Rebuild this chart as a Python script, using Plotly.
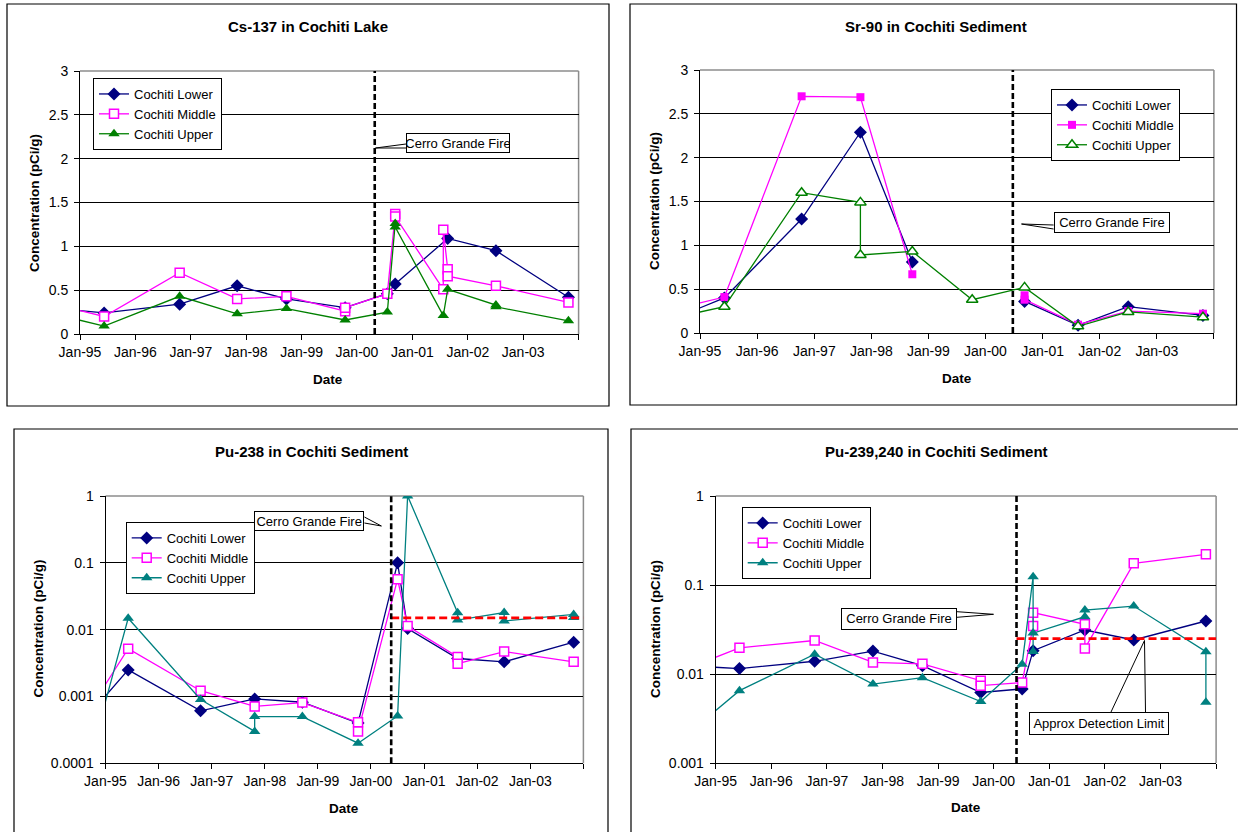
import plotly.graph_objects as go

W, H = 1238, 832
FONT = "Liberation Sans, Arial, sans-serif"
NAVY, MAG, GREEN, TEAL = "#000080", "#FF00FF", "#008000", "#008080"

# ---------------- data ----------------
# Panel 1: Cs-137 in Cochiti Lake (pCi/g)
cs_lower_dates = ["1994-10-15", "1995-06-09", "1996-10-19", "1997-11-02", "1998-09-23", "1999-10-15",
                  "2000-07-19", "2000-09-09", "2001-08-21", "2002-07-05", "2003-10-26"]
cs_lower_vals = [0.28, 0.24, 0.34, 0.55, 0.40, 0.30, 0.46, 0.57, 1.09, 0.95, 0.42]
cs_middle_dates = ["1994-10-15", "1995-06-09", "1996-10-19", "1997-11-02", "1998-09-23", "1999-10-15",
                   "1999-10-15", "2000-07-19", "2000-09-09", "2000-09-09", "2001-07-23", "2001-07-23",
                   "2001-08-21", "2001-08-21", "2002-07-05", "2003-10-26"]
cs_middle_vals = [0.30, 0.20, 0.70, 0.40, 0.43, 0.26, 0.30, 0.46, 1.37, 1.34, 0.51, 1.19,
                  0.74, 0.66, 0.55, 0.36]
cs_upper_dates = ["1994-10-15", "1995-06-09", "1996-10-19", "1997-11-02", "1998-09-23", "1999-10-15",
                  "2000-07-19", "2000-09-09", "2000-09-09", "2001-07-23", "2001-08-21", "2002-07-05",
                  "2002-07-05", "2003-10-26"]
cs_upper_vals = [0.19, 0.09, 0.43, 0.23, 0.29, 0.16, 0.25, 1.26, 1.22, 0.21, 0.51, 0.33, 0.31, 0.15]

# Panel 2: Sr-90 in Cochiti Sediment (None = gap in series)
sr_lower_dates = ["1994-10-15", "1995-06-06", "1996-10-12", "1997-10-23", "1998-09-20", "1999-10-08",
                  "2000-09-07", "2001-08-15", "2002-07-02", "2003-10-23"]
sr_lower_vals = [0.23, 0.40, 1.30, 2.29, 0.81, None, 0.36, 0.087, 0.30, 0.20]
sr_middle_dates = ["1994-10-15", "1995-06-06", "1996-10-12", "1997-10-23", "1998-09-20", "1999-10-08",
                   "2000-09-07", "2000-09-07", "2001-08-15", "2002-07-02", "2003-10-23"]
sr_middle_vals = [0.31, 0.41, 2.70, 2.69, 0.67, None, 0.43, 0.38, 0.095, 0.25, 0.22]
sr_upper_dates = ["1994-10-15", "1995-06-06", "1996-10-12", "1997-10-23", "1997-10-23", "1998-09-20",
                  "1999-10-08", "2000-09-07", "2001-08-15", "2002-07-02", "2003-10-23"]
sr_upper_vals = [0.21, 0.30, 1.60, 1.49, 0.89, 0.93, 0.38, 0.52, 0.076, 0.24, 0.18]

# Panel 3: Pu-238 in Cochiti Sediment
pu238_lower_dates = ["1994-10-15", "1995-06-06", "1996-10-16", "1997-10-23", "1998-09-16", "1999-10-04",
                     "2000-07-02", "2000-09-09", "2001-08-19", "2002-07-05", "2003-10-26"]
pu238_lower_vals = [0.00065, 0.0025, 0.00061, 0.00092, 0.00082, 0.0004, 0.1, 0.0104, 0.0037, 0.0033, 0.0065]
pu238_middle_dates = ["1994-10-15", "1995-06-06", "1996-10-16", "1997-10-23", "1998-09-16", "1999-10-04",
                      "1999-10-04", "2000-07-02", "2000-09-09", "2001-08-19", "2001-08-19", "2002-07-05",
                      "2003-10-26"]
pu238_middle_vals = [0.00082, 0.0052, 0.00122, 0.00071, 0.00081, 0.00041, 0.0003, 0.057, 0.0113, 0.0039,
                     0.0031, 0.0047, 0.0033]
pu238_upper_dates = ["1994-10-15", "1995-06-06", "1996-10-16", "1997-10-23", "1997-10-23", "1998-09-16",
                     "1999-10-04", "2000-07-02", "2000-09-09", "2001-08-19", "2001-08-19", "2002-07-05",
                     "2002-07-05", "2003-10-26", "2003-10-26"]
pu238_upper_vals = [0.0002, 0.0148, 0.0009, 0.0003, 0.0005, 0.0005, 0.0002, 0.00051, 1.0, 0.0179, 0.0139,
                    0.0180, 0.0135, 0.0169, 0.0152]

# Panel 4: Pu-239,240 in Cochiti Sediment
pu239_lower_dates = ["1994-10-15", "1995-06-06", "1996-10-12", "1997-10-30", "1998-09-20", "1999-10-08",
                     "2000-07-06", "2000-09-16", "2001-08-22", "2002-07-09", "2003-10-26"]
pu239_lower_vals = [0.0121, 0.0115, 0.0139, 0.0181, 0.0124, 0.0062, 0.0068, 0.0183, 0.0312, 0.0241, 0.0394]
pu239_middle_dates = ["1994-10-15", "1995-06-06", "1996-10-12", "1997-10-30", "1998-09-20", "1999-10-08",
                      "1999-10-08", "2000-07-06", "2000-09-16", "2000-09-16", "2001-08-22", "2001-08-22",
                      "2002-07-09", "2003-10-26"]
pu239_middle_vals = [0.0137, 0.0197, 0.0238, 0.0135, 0.0130, 0.0084, 0.0074, 0.0080, 0.0346, 0.0489,
                     0.0362, 0.0194, 0.175, 0.221]
pu239_upper_dates = ["1994-10-15", "1995-06-06", "1996-10-12", "1997-10-30", "1998-09-20", "1999-10-08",
                     "2000-07-06", "2000-09-16", "2000-09-16", "2000-09-16", "2001-08-22", "2001-08-22",
                     "2002-07-09", "2003-10-26", "2003-10-26"]
pu239_upper_vals = [0.0030, 0.0065, 0.0167, 0.0077, 0.0091, 0.0049, 0.0129, 0.124, 0.0179, 0.0288,
                    0.0440, 0.0524, 0.058, 0.0178, 0.0048]

fire_dates = ["2000-04-27", "2000-06-24", "2000-05-19", "2000-05-30"]
detect_limits = {3: 0.015, 4: 0.025}
x_range = ["1995-01-01", "2004-01-01"]
x_tick_vals = ["1995-01-01", "1996-01-01", "1997-01-01", "1998-01-01", "1999-01-01",
               "2000-01-01", "2001-01-01", "2002-01-01", "2003-01-01", "2004-01-01"]
x_tick_text = ["Jan-95", "Jan-96", "Jan-97", "Jan-98", "Jan-99", "Jan-00", "Jan-01", "Jan-02", "Jan-03", ""]
titles = ["Cs-137 in Cochiti Lake", "Sr-90 in Cochiti Sediment",
          "Pu-238 in Cochiti Sediment", "Pu-239,240 in Cochiti Sediment"]
series_names = ["Cochiti Lower", "Cochiti Middle", "Cochiti Upper"]
log_ticks = [0.0001, 0.001, 0.01, 0.1, 1]
log_labels = ["0.0001", "0.001", "0.01", "0.1", "1"]

# ---------------- layout geometry (pixels) ----------------
plot_px = {  # x0, x1, y_top, y_bottom
    1: (80, 578.6, 71, 334),
    2: (700, 1213.9, 70, 333),
    3: (105.5, 583.4, 496, 763.3),
    4: (715.7, 1216.1, 496, 763),
}
frames_px = {1: (7, 4, 609, 406), 2: (630, 4, 1236.5, 405), 3: (14, 429, 608, 845), 4: (631, 429, 1245, 845)}


def px(v):
    return v / W


def py(v):
    return 1 - v / H


fig = go.Figure()


def marker(kind, color):
    if kind == "diamond":
        return dict(symbol="diamond", size=10, color=color, line=dict(width=0))
    if kind == "square":
        return dict(symbol="square", size=8, color=color, line=dict(width=0))
    if kind == "square-open":
        return dict(symbol="square", size=9, color="white", line=dict(width=1.5, color=color))
    if kind == "triangle":
        return dict(symbol="triangle-up", size=10, color=color, line=dict(width=0))
    if kind == "triangle-open":
        return dict(symbol="triangle-up", size=10, color="white", line=dict(width=1.5, color=color))


panels = [
    (1, [(cs_lower_dates, cs_lower_vals, NAVY, "diamond"),
         (cs_middle_dates, cs_middle_vals, MAG, "square-open"),
         (cs_upper_dates, cs_upper_vals, GREEN, "triangle")]),
    (2, [(sr_lower_dates, sr_lower_vals, NAVY, "diamond"),
         (sr_middle_dates, sr_middle_vals, MAG, "square"),
         (sr_upper_dates, sr_upper_vals, GREEN, "triangle-open")]),
    (3, [(pu238_lower_dates, pu238_lower_vals, NAVY, "diamond"),
         (pu238_middle_dates, pu238_middle_vals, MAG, "square-open"),
         (pu238_upper_dates, pu238_upper_vals, TEAL, "triangle")]),
    (4, [(pu239_lower_dates, pu239_lower_vals, NAVY, "diamond"),
         (pu239_middle_dates, pu239_middle_vals, MAG, "square-open"),
         (pu239_upper_dates, pu239_upper_vals, TEAL, "triangle")]),
]

legend_pos = {1: (93, 78), 2: (1051, 89), 3: (125.7, 522), 4: (741.7, 507)}

for p, series in panels:
    xa = "x" if p == 1 else f"x{p}"
    ya = "y" if p == 1 else f"y{p}"
    lg = "legend" if p == 1 else f"legend{p}"
    for (d, v, c, mk), name in zip(series, series_names):
        fig.add_trace(go.Scatter(
            x=d, y=v, name=name, mode="lines+markers", xaxis=xa, yaxis=ya, legend=lg,
            line=dict(color=c, width=1.3), marker=marker(mk, c), cliponaxis=True,
            connectgaps=False))
    if p in detect_limits:
        fig.add_trace(go.Scatter(
            x=[fire_dates[p - 1], x_range[1]], y=[detect_limits[p], detect_limits[p]],
            mode="lines", xaxis=xa, yaxis=ya, showlegend=False, hoverinfo="skip",
            line=dict(color="#FF0000", width=2.6, dash="8px,4px")))

layout = dict(
    width=W, height=H, margin=dict(l=0, r=0, t=0, b=0, pad=0, autoexpand=False),
    paper_bgcolor="white", plot_bgcolor="white",
    font=dict(family=FONT, size=13, color="black"),
    showlegend=True, shapes=[], annotations=[],
)

for p in range(1, 5):
    x0, x1, yt, yb = plot_px[p]
    xkey = "xaxis" if p == 1 else f"xaxis{p}"
    ykey = "yaxis" if p == 1 else f"yaxis{p}"
    xa = "x" if p == 1 else f"x{p}"
    ya = "y" if p == 1 else f"y{p}"
    layout[xkey] = dict(
        domain=[px(x0), px(x1)], anchor=ya, type="date", range=x_range,
        tickmode="array", tickvals=x_tick_vals, ticktext=x_tick_text,
        ticks="outside", ticklen=5, tickcolor="black", tickwidth=1,
        showgrid=False, zeroline=False, showline=True, linecolor="black", linewidth=1,
        tickfont=dict(family=FONT, size=14), fixedrange=True)
    ydef = dict(
        domain=[py(yb), py(yt)], anchor=xa,
        ticks="outside", ticklen=5, tickcolor="black", tickwidth=1,
        showgrid=True, gridcolor="black", gridwidth=1, zeroline=False,
        showline=True, linecolor="black", linewidth=1,
        tickfont=dict(family=FONT, size=14), fixedrange=True, ticklabelstandoff=3)
    if p <= 2:
        ydef.update(range=[0, 3], tick0=0, dtick=0.5)
    else:
        lo = -4 if p == 3 else -3
        ydef.update(type="log", range=[lo, 0],
                    tickvals=[t for t in log_ticks if t >= 10 ** lo - 1e-12],
                    ticktext=[l for t, l in zip(log_ticks, log_labels) if t >= 10 ** lo - 1e-12])
    layout[ykey] = ydef

    # gray plot-area border on top / right
    layout["shapes"].append(dict(type="line", xref="paper", yref="paper", layer="between",
                                 x0=px(x0), x1=px(x1), y0=py(yt), y1=py(yt),
                                 line=dict(color="#8c8c8c", width=1.5)))
    layout["shapes"].append(dict(type="line", xref="paper", yref="paper", layer="between",
                                 x0=px(x1), x1=px(x1), y0=py(yt), y1=py(yb),
                                 line=dict(color="#8c8c8c", width=1.5)))
    # chart frame
    fx0, fy0, fx1, fy1 = frames_px[p]
    layout["shapes"].append(dict(type="rect", xref="paper", yref="paper", layer="above",
                                 x0=px(fx0), x1=px(fx1), y0=py(fy0), y1=py(fy1),
                                 line=dict(color="black", width=1.2)))
    # fire line
    layout["shapes"].append(dict(type="line", xref=xa, yref=f"{ya} domain", layer="above",
                                 x0=fire_dates[p - 1], x1=fire_dates[p - 1], y0=0, y1=1,
                                 line=dict(color="black", width=2.6, dash="6px,3px")))
    # legend
    lx, ly = legend_pos[p]
    lkey = "legend" if p == 1 else f"legend{p}"
    layout[lkey] = dict(x=px(lx), y=py(ly), xanchor="left", yanchor="top",
                        bgcolor="white", bordercolor="black", borderwidth=1,
                        font=dict(family=FONT, size=13), tracegroupgap=0,
                        itemwidth=30)

# titles and axis titles
title_pos = {1: (308, 26), 2: (936, 26), 3: (311, 451), 4: (936, 451)}
ytitle_pos = {1: (35, 203), 2: (655, 201), 3: (37.5, 629), 4: (655, 629)}
date_pos = {1: (328, 379), 2: (957, 378), 3: (344, 808), 4: (966, 807)}
for p in range(1, 5):
    tx, ty = title_pos[p]
    layout["annotations"].append(dict(text=f"<b>{titles[p - 1]}</b>", xref="paper", yref="paper",
                                      x=px(tx), y=py(ty), showarrow=False, xanchor="center",
                                      yanchor="middle", font=dict(family=FONT, size=15)))
    yx, yy = ytitle_pos[p]
    layout["annotations"].append(dict(text="<b>Concentration (pCi/g)</b>", xref="paper", yref="paper",
                                      x=px(yx), y=py(yy), showarrow=False, textangle=-90,
                                      xanchor="center", yanchor="middle",
                                      font=dict(family=FONT, size=13.5)))
    dx, dy = date_pos[p]
    layout["annotations"].append(dict(text="<b>Date</b>", xref="paper", yref="paper",
                                      x=px(dx), y=py(dy), showarrow=False, xanchor="center",
                                      yanchor="middle", font=dict(family=FONT, size=13.5)))

# callouts: (text, box (x0,y0,x1,y1), tip, attach points)
callouts = [
    ("Cerro Grande Fire", (406, 133, 510, 153), (375.5, 148), [(406, 144), (406, 148)]),
    ("Cerro Grande Fire", (1053.6, 212, 1169.4, 233), (1021.5, 224), [(1053.6, 225), (1053.6, 229)]),
    ("Cerro Grande Fire", (254, 510.7, 364.4, 531), (381.4, 526), [(364.4, 517), (364.4, 523)]),
    ("Cerro Grande Fire", (841, 607.7, 957, 629.3), (993.5, 614.3), [(957, 611.7), (957, 617.3)]),
    ("Approx Detection Limit", (1029, 712, 1169, 734.5), (1144.5, 640.5), [(1111, 712), (1145.5, 712)]),
]
for text, (bx0, by0, bx1, by1), (tx, ty), attach in callouts:
    for (ax_, ay_) in attach:
        layout["shapes"].append(dict(type="line", xref="paper", yref="paper", layer="above",
                                     x0=px(tx), y0=py(ty), x1=px(ax_), y1=py(ay_),
                                     line=dict(color="black", width=1)))
    layout["annotations"].append(dict(
        text=text, xref="paper", yref="paper", x=px((bx0 + bx1) / 2), y=py((by0 + by1) / 2),
        xanchor="center", yanchor="middle",
        showarrow=False, bgcolor="white", bordercolor="black", borderwidth=1, borderpad=0,
        width=bx1 - bx0 - 2, height=by1 - by0 - 2,
        font=dict(family=FONT, size=13)))

fig.update_layout(**layout)

fig.write_html("out.html", config={"displayModeBar": False},
               post_script="document.body.style.margin='0';document.body.style.overflow='hidden';")
